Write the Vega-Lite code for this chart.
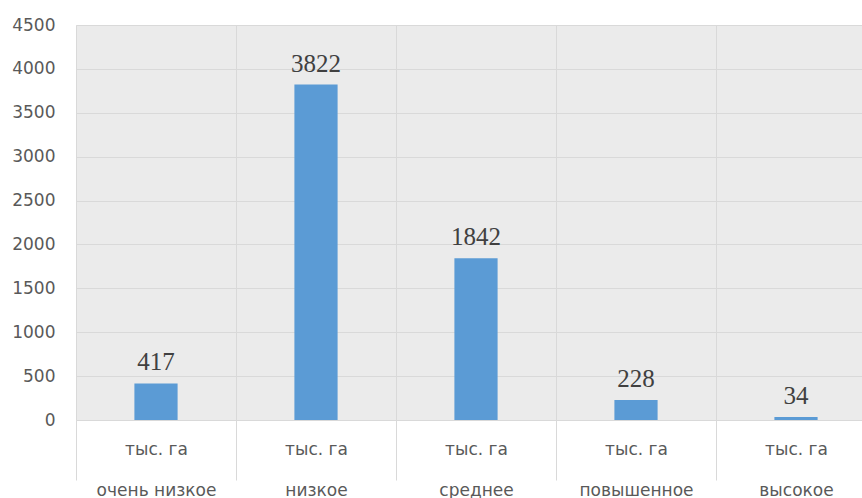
{
  "$schema": "https://vega.github.io/schema/vega-lite/v6.json",
  "width": 786,
  "height": 395,
  "autosize": "none",
  "padding": {"left": 76, "top": 25, "right": 0, "bottom": 78},
  "background": "white",
  "config": {"view": {"fill": "#ebebeb", "stroke": null}},
  "data": {"values": [
    {"category": "очень низкое", "unit": "тыс. га", "value": 417},
    {"category": "низкое", "unit": "тыс. га", "value": 3822},
    {"category": "среднее", "unit": "тыс. га", "value": 1842},
    {"category": "повышенное", "unit": "тыс. га", "value": 228},
    {"category": "высокое", "unit": "тыс. га", "value": 34}
  ]},
  "encoding": {
    "x": {"field": "category", "type": "nominal", "sort": null,
      "scale": {"range": [0, 800], "paddingInner": 0, "paddingOuter": 0},
      "axis": {"title": null, "labelExpr": "isValid(datum.value) && datum.value != '' ? ['тыс. га', datum.value] : ''", "labelLineHeight": 41,
        "tickBand": "extent", "ticks": true, "tickSize": 60,
        "tickColor": "#d9d9d9", "grid": true, "gridColor": "#d9d9d9", "domainColor": "#d9d9d9",
        "labelPadding": -39, "labelAngle": 0, "labelFont": "DejaVu Sans", "labelFontSize": 17,
        "labelColor": "#595959", "labelBaseline": "top"}},
    "y": {"field": "value", "type": "quantitative",
      "scale": {"domain": [0, 4500], "nice": false},
      "axis": {"title": null, "values": [0, 500, 1000, 1500, 2000, 2500, 3000, 3500, 4000, 4500], "format": "d",
        "grid": true, "gridColor": "#d9d9d9", "domain": false, "ticks": false, "labelPadding": 21,
        "labelFont": "DejaVu Sans", "labelFontSize": 17, "labelColor": "#595959"}}
  },
  "layer": [
    {
      "mark": {"type": "bar", "color": "#5b9bd5", "width": {"band": 0.27}}
    },
    {
      "mark": {"type": "text", "dy": -13, "baseline": "alphabetic", "font": "Liberation Serif", "fontSize": 25, "color": "#404040"},
      "encoding": {
        "text": {"field": "value", "type": "quantitative"}
      }
    }
  ]
}
